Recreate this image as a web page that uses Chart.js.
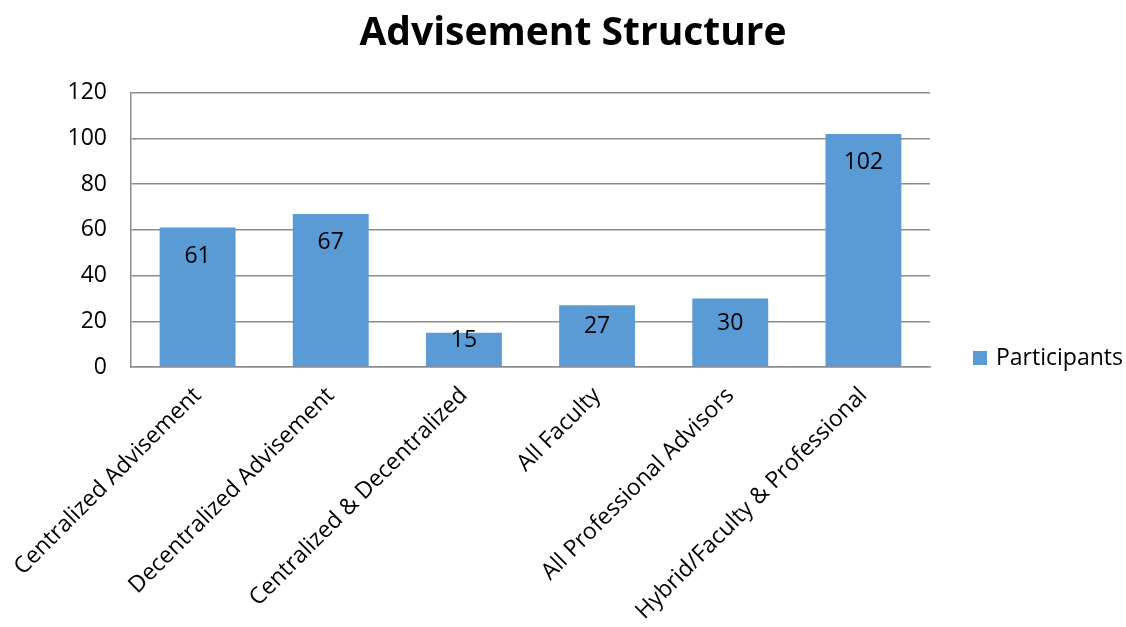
<!DOCTYPE html>
<html>
<head>
<meta charset="utf-8">
<script src="https://cdn.jsdelivr.net/npm/chart.js@4.4.0/dist/chart.umd.min.js"></script>
<style>
  html, body { margin: 0; padding: 0; background: #fff; }
  #wrap { width: 1126px; height: 627px; }
</style>
</head>
<body>
<div id="wrap"><canvas id="chart"></canvas></div>
<script>
const categories = [
    'Centralized Advisement',
    'Decentralized Advisement',
    'Centralized & Decentralized',
    'All Faculty',
    'All Professional Advisors',
    'Hybrid/Faculty & Professional'
];
const participants = [61, 67, 15, 27, 30, 102];
const yTicks = [0, 20, 40, 60, 80, 100, 120];

const barColor = '#5B9BD5';
const lineColor = '#8C8C8C';
const fontFamily = "'Open Sans', sans-serif";
const textSize = 23;

// value labels just inside the top of each bar
const barLabels = {
    id: 'barLabels',
    afterDatasetsDraw(chart) {
        const ctx = chart.ctx;
        const meta = chart.getDatasetMeta(0);
        ctx.save();
        ctx.font = `${textSize}px ${fontFamily}`;
        ctx.fillStyle = '#000';
        ctx.textAlign = 'center';
        ctx.textBaseline = 'middle';
        meta.data.forEach((bar, i) => {
            const h = bar.base - bar.y;
            const off = Math.min(29, h / 2 - 9); // short bars: keep the label inside
            ctx.fillText(String(participants[i]), bar.x, bar.y + off);
        });
        ctx.restore();
    }
};

// legend drawn in the space kept free on the right
const sideLegend = {
    id: 'sideLegend',
    afterDraw(chart) {
        const ctx = chart.ctx;
        const area = chart.chartArea;
        const x = area.right + 43;
        const y = area.bottom - 9;
        ctx.save();
        ctx.fillStyle = barColor;
        ctx.fillRect(x, y - 7, 14, 14);
        ctx.font = `${textSize}px ${fontFamily}`;
        ctx.fillStyle = '#000';
        ctx.textBaseline = 'middle';
        ctx.fillText(chart.data.datasets[0].label, x + 23, y);
        ctx.restore();
    }
};

new Chart(document.getElementById('chart'), {
    type: 'bar',
    data: {
        labels: categories,
        datasets: [{
            label: 'Participants',
            data: participants,
            backgroundColor: barColor,
            barPercentage: 0.57,
            categoryPercentage: 1.0
        }]
    },
    options: {
        responsive: true,
        maintainAspectRatio: false,
        animation: false,
        layout: { padding: { left: 20, right: 0, top: 0, bottom: 0 } },
        plugins: {
            legend: { display: false },
            tooltip: { enabled: false },
            title: {
                display: true,
                text: 'Advisement Structure',
                color: '#000',
                font: { family: fontFamily, size: 39, weight: 'bold' },
                padding: { top: 10, bottom: 36 }
            }
        },
        scales: {
            x: {
                grid: { display: false },
                border: { color: lineColor, width: 1.5 },
                ticks: {
                    color: '#000',
                    font: { family: fontFamily, size: textSize },
                    minRotation: 45,
                    maxRotation: 45,
                    autoSkip: false,
                    padding: 7
                },
                // rotated labels may hang past the left axis, as in the original
                afterFit: s => { s.paddingLeft = 0; s.height = 260; }
            },
            y: {
                min: 0,
                max: 120,
                afterBuildTicks: s => { s.ticks = yTicks.map(v => ({ value: v })); },
                grid: { color: lineColor, lineWidth: 1.5, drawTicks: false },
                border: { color: lineColor, width: 1.5 },
                ticks: {
                    color: '#000',
                    font: { family: fontFamily, size: textSize },
                    padding: 24
                },
                afterFit: s => { s.width = 111; }
            },
            side: {
                position: 'right',
                display: true,
                grid: { display: false },
                border: { display: false },
                ticks: { display: false },
                afterFit: s => { s.width = 196; }
            }
        }
    },
    plugins: [barLabels, sideLegend]
});
</script>
</body>
</html>
